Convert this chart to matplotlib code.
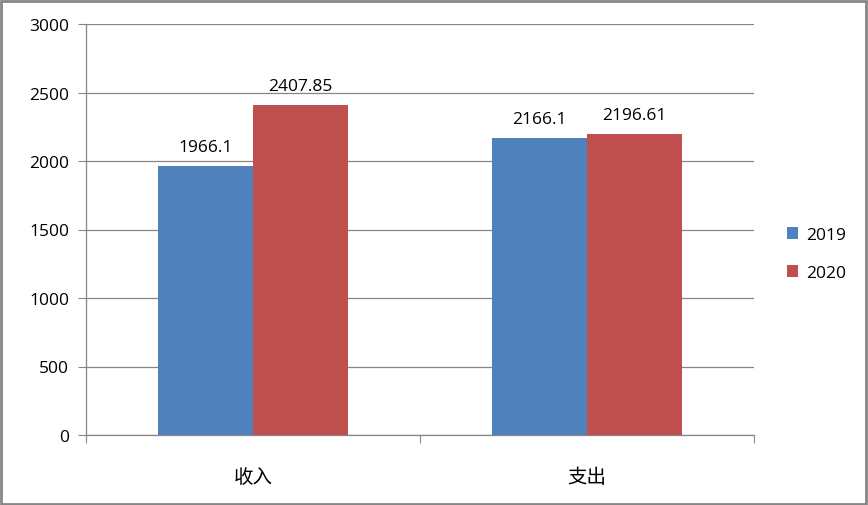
import matplotlib.pyplot as plt
from matplotlib.patches import Rectangle

plt.rcParams['font.family'] = ['Open Sans', 'Noto Sans CJK SC', 'DejaVu Sans']

categories = ['收入', '支出']
years = ['2019', '2020']
vals_2019 = [1966.1, 2166.1]
vals_2020 = [2407.85, 2196.61]
labels_2019 = ['1966.1', '2166.1']
labels_2020 = ['2407.85', '2196.61']
colors = ['#4F81BD', '#C0504D']

fig = plt.figure(figsize=(8.68, 5.06), dpi=100)
ax = fig.add_axes([86/868, 70/506, 668/868, 411/506])

w = 0.284
xs = [0.5, 1.5]
b1 = ax.bar([x - w/2 for x in xs], vals_2019, w, color=colors[0], label=years[0], zorder=3)
b2 = ax.bar([x + w/2 for x in xs], vals_2020, w, color=colors[1], label=years[1], zorder=3)
for bars, labs in ((b1, labels_2019), (b2, labels_2020)):
    for r, t in zip(bars, labs):
        ax.text(r.get_x() + r.get_width()/2, r.get_height() + 80, t,
                ha='center', va='bottom', fontsize=12.5, color='black')

ax.set_xlim(0, 2)
ax.set_ylim(0, 3000)
ax.set_yticks(range(0, 3001, 500))
ax.yaxis.grid(True, color='#868686', linewidth=0.9, zorder=0)
ax.set_xticks([0, 1, 2])
ax.set_xticklabels([])
ax.set_xticks(xs, minor=True)
ax.set_xticklabels(categories, minor=True, fontsize=14, family=['Noto Sans CJK SC'])
ax.tick_params(axis='x', which='major', direction='out', length=6, color='#868686')
ax.tick_params(axis='x', which='minor', length=0, pad=22)
ax.tick_params(axis='y', direction='out', length=6, color='#868686', labelsize=12.5, pad=6)
for s in ['top', 'right']:
    ax.spines[s].set_visible(False)
for s in ['left', 'bottom']:
    ax.spines[s].set_color('#868686')
    ax.spines[s].set_linewidth(0.9)

leg = ax.legend(loc='center left', bbox_to_anchor=(1.026, 0.44), frameon=False,
                fontsize=12.5, handlelength=0.65, handleheight=0.65, labelspacing=1.25,
                handletextpad=0.45)

fig.patches.append(Rectangle((0.001, 0.002), 0.997, 0.995, transform=fig.transFigure,
                             fill=False, edgecolor='#868686', linewidth=2))

fig.savefig('out.png', dpi=100)
